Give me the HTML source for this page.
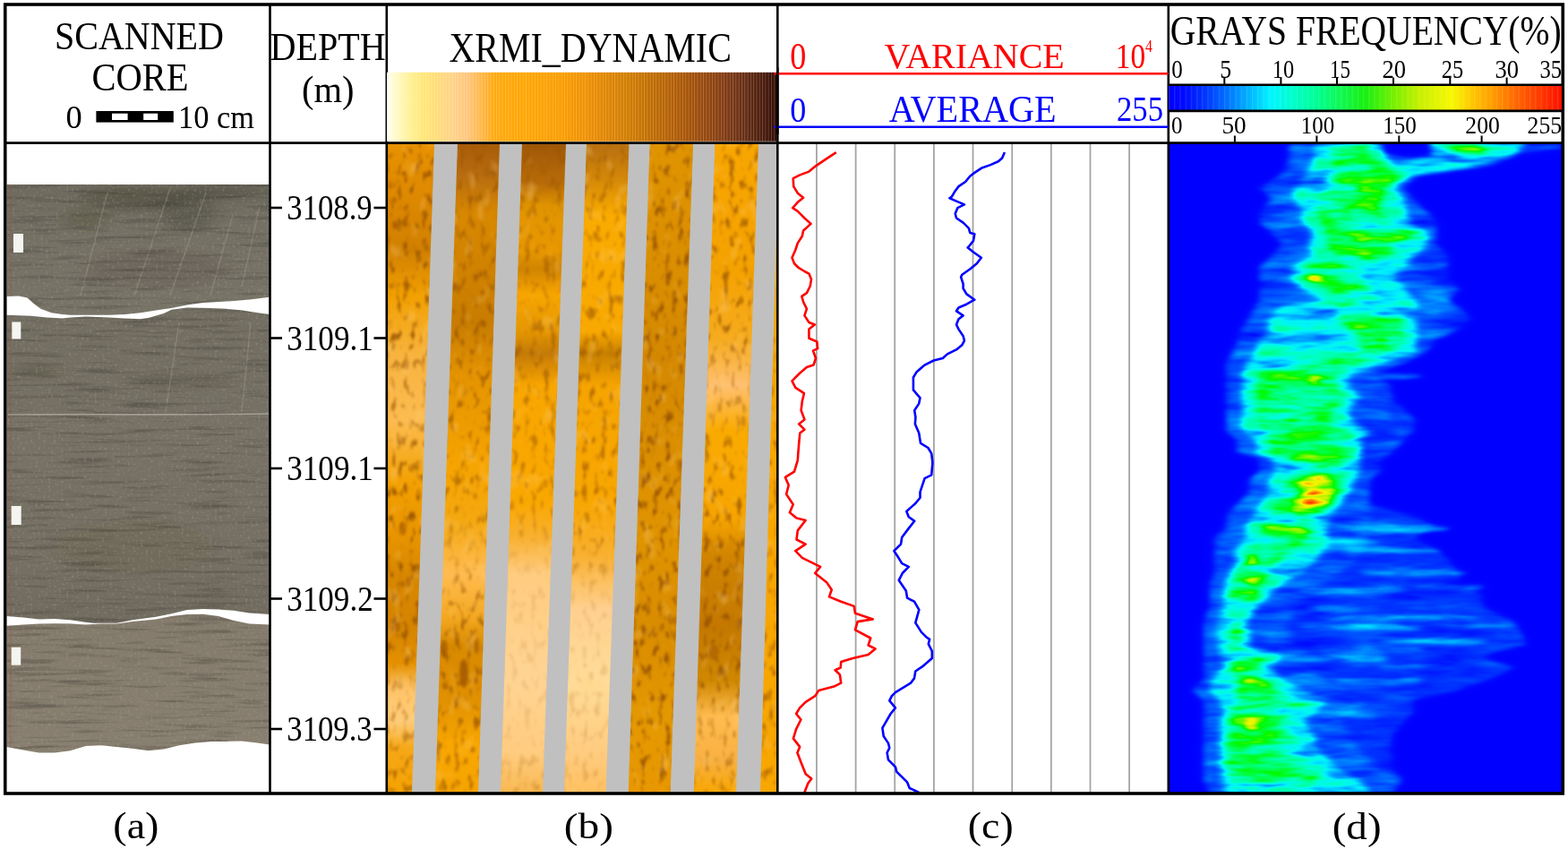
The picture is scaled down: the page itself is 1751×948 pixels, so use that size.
<!DOCTYPE html>
<html><head><meta charset="utf-8"><title>Core image analysis figure</title>
<style>html,body{margin:0;padding:0;background:#fff;overflow:hidden}svg{display:block}</style>
</head><body>
<svg width="1751" height="948" viewBox="0 0 1751 948" font-family="'Liberation Serif', 'Times New Roman', serif">
<defs>
<linearGradient id="cg1" gradientUnits="userSpaceOnUse" x1="0" y1="206" x2="0" y2="356"><stop offset="0" stop-color="#6e6a5e"/><stop offset="0.3" stop-color="#747064"/><stop offset="1" stop-color="#787468"/></linearGradient>
<linearGradient id="cg2" gradientUnits="userSpaceOnUse" x1="0" y1="345" x2="0" y2="696"><stop offset="0" stop-color="#736e62"/><stop offset="0.3" stop-color="#757064"/><stop offset="0.35" stop-color="#787266"/><stop offset="0.8" stop-color="#767064"/><stop offset="1" stop-color="#716b5f"/></linearGradient>
<linearGradient id="cg3" gradientUnits="userSpaceOnUse" x1="0" y1="690" x2="0" y2="840"><stop offset="0" stop-color="#847b6c"/><stop offset="1" stop-color="#887f70"/></linearGradient>
<filter id="cnoise" filterUnits="userSpaceOnUse" x="8" y="200" width="295" height="645" color-interpolation-filters="sRGB">
<feTurbulence type="fractalNoise" baseFrequency="0.015 0.22" numOctaves="3" seed="21"/>
<feColorMatrix type="matrix" values="0 0 0 0 0.24  0 0 0 0 0.23  0 0 0 0 0.2  -3.2 0 0 0 1.55"/>
<feGaussianBlur stdDeviation="0.6"/>
</filter>
<filter id="cnoise2" filterUnits="userSpaceOnUse" x="8" y="200" width="295" height="645" color-interpolation-filters="sRGB">
<feTurbulence type="fractalNoise" baseFrequency="0.35 0.35" numOctaves="1" seed="33"/>
<feColorMatrix type="matrix" values="0 0 0 0 0.72  0 0 0 0 0.72  0 0 0 0 0.68  3.2 0 0 0 -1.75"/>
<feGaussianBlur stdDeviation="0.5"/>
</filter>
<filter id="cblur" x="-50%" y="-50%" width="200%" height="200%"><feGaussianBlur stdDeviation="8 3"/></filter>
<clipPath id="clipCore"><polygon points="7.5,206.0 300.5,206.0 301.0,331.8 278.7,334.4 261.3,336.1 243.9,337.0 226.4,337.9 209.0,340.5 191.6,344.0 174.2,346.6 156.8,349.2 139.3,350.9 121.9,351.8 94.1,351.8 78.4,351.8 69.7,350.9 57.5,349.2 45.3,344.8 36.6,337.9 30.5,332.6 20.9,330.6 7.5,330.9"/><polygon points="7.5,351.8 34.8,352.7 52.3,354.4 69.7,355.6 78.4,354.4 95.8,353.5 121.9,354.4 139.3,355.6 156.8,356.2 165.5,354.9 182.9,350.1 191.6,345.7 209.0,343.4 235.2,344.0 252.6,344.8 270.0,346.6 287.4,349.2 301.0,350.9 301.0,686.1 278.7,684.4 261.3,681.8 243.9,680.6 226.4,680.0 209.0,680.9 191.6,685.3 174.2,688.7 148.1,692.2 130.6,695.7 104.5,695.7 95.8,694.8 78.4,692.2 61.0,691.0 43.5,691.4 26.1,689.6 7.5,687.9"/><polygon points="7.5,698.7 26.1,697.4 43.5,696.6 61.0,696.2 78.4,696.6 95.8,697.4 113.2,696.6 130.6,696.6 148.1,694.0 174.2,691.4 191.6,687.9 209.0,686.1 226.4,685.8 243.9,687.9 261.3,693.1 278.7,696.6 301.0,697.4 301.0,831.4 287.4,829.6 270.0,827.5 252.6,827.9 235.2,827.9 217.7,829.6 200.3,832.2 182.9,836.6 165.5,838.3 148.1,835.7 130.6,834.0 113.2,832.2 95.8,833.1 78.4,838.3 61.0,840.4 43.5,840.4 26.1,837.5 7.5,834.0"/></clipPath>
<linearGradient id="xm0" gradientUnits="userSpaceOnUse" x1="0" y1="161" x2="0" y2="885"><stop offset="0.000" stop-color="#fff" stop-opacity="0.9"/><stop offset="0.302" stop-color="#fff" stop-opacity="0.9"/><stop offset="0.358" stop-color="#fff" stop-opacity="0.6"/><stop offset="0.496" stop-color="#fff" stop-opacity="0.8"/><stop offset="0.551" stop-color="#fff" stop-opacity="1.0"/><stop offset="0.744" stop-color="#fff" stop-opacity="1.0"/><stop offset="0.827" stop-color="#fff" stop-opacity="0.5"/><stop offset="0.910" stop-color="#fff" stop-opacity="0.5"/><stop offset="1.000" stop-color="#fff" stop-opacity="0.8"/></linearGradient>
<linearGradient id="xm1" gradientUnits="userSpaceOnUse" x1="0" y1="161" x2="0" y2="885"><stop offset="0.000" stop-color="#fff" stop-opacity="0.6"/><stop offset="0.330" stop-color="#fff" stop-opacity="0.8"/><stop offset="0.551" stop-color="#fff" stop-opacity="0.6"/><stop offset="0.634" stop-color="#fff" stop-opacity="0.3"/><stop offset="0.731" stop-color="#fff" stop-opacity="0.7"/><stop offset="0.855" stop-color="#fff" stop-opacity="0.9"/><stop offset="1.000" stop-color="#fff" stop-opacity="0.6"/></linearGradient>
<linearGradient id="xm2" gradientUnits="userSpaceOnUse" x1="0" y1="161" x2="0" y2="885"><stop offset="0.000" stop-color="#fff" stop-opacity="0.5"/><stop offset="0.358" stop-color="#fff" stop-opacity="0.6"/><stop offset="0.551" stop-color="#fff" stop-opacity="0.5"/><stop offset="0.634" stop-color="#fff" stop-opacity="0.15"/><stop offset="0.938" stop-color="#fff" stop-opacity="0.15"/><stop offset="1.000" stop-color="#fff" stop-opacity="0.4"/></linearGradient>
<linearGradient id="xm3" gradientUnits="userSpaceOnUse" x1="0" y1="161" x2="0" y2="885"><stop offset="0.000" stop-color="#fff" stop-opacity="0.5"/><stop offset="0.358" stop-color="#fff" stop-opacity="0.7"/><stop offset="0.606" stop-color="#fff" stop-opacity="0.6"/><stop offset="0.689" stop-color="#fff" stop-opacity="0.15"/><stop offset="0.965" stop-color="#fff" stop-opacity="0.2"/><stop offset="1.000" stop-color="#fff" stop-opacity="0.3"/></linearGradient>
<linearGradient id="xm4" gradientUnits="userSpaceOnUse" x1="0" y1="161" x2="0" y2="885"><stop offset="0.000" stop-color="#fff" stop-opacity="1.0"/><stop offset="1.000" stop-color="#fff" stop-opacity="1.0"/></linearGradient>
<linearGradient id="xm5" gradientUnits="userSpaceOnUse" x1="0" y1="161" x2="0" y2="885"><stop offset="0.000" stop-color="#fff" stop-opacity="0.8"/><stop offset="0.289" stop-color="#fff" stop-opacity="0.8"/><stop offset="0.372" stop-color="#fff" stop-opacity="0.4"/><stop offset="0.551" stop-color="#fff" stop-opacity="0.8"/><stop offset="0.634" stop-color="#fff" stop-opacity="1.0"/><stop offset="0.827" stop-color="#fff" stop-opacity="1.0"/><stop offset="0.883" stop-color="#fff" stop-opacity="0.4"/><stop offset="1.000" stop-color="#fff" stop-opacity="0.6"/></linearGradient>
<linearGradient id="xm6" gradientUnits="userSpaceOnUse" x1="0" y1="161" x2="0" y2="885"><stop offset="0.000" stop-color="#fff" stop-opacity="0.7"/><stop offset="1.000" stop-color="#fff" stop-opacity="0.7"/></linearGradient>
<mask id="xmask" maskUnits="userSpaceOnUse" x="432" y="160" width="437" height="726"><rect x="432" y="160" width="437" height="726" fill="#000"/><polygon points="429,161 488,161 463,885 429,885" fill="url(#xm0)"/><polygon points="508,161 561,161 537,885 483,885" fill="url(#xm1)"/><polygon points="580,161 635,161 609,885 556,885" fill="url(#xm2)"/><polygon points="652,161 705.5,161 679.5,885 627,885" fill="url(#xm3)"/><polygon points="722.6,161 777,161 751.6,885 698.7,885" fill="url(#xm4)"/><polygon points="795.4,161 850,161 825,885 771.7,885" fill="url(#xm5)"/><polygon points="867,161 903,161 903,885 846,885" fill="url(#xm6)"/></mask>
<linearGradient id="xs0" gradientUnits="userSpaceOnUse" x1="0" y1="161" x2="0" y2="885"><stop offset="0.000" stop-color="#e89200"/><stop offset="0.123" stop-color="#d88400"/><stop offset="0.164" stop-color="#d08000"/><stop offset="0.233" stop-color="#f2a000"/><stop offset="0.330" stop-color="#f8b440"/><stop offset="0.427" stop-color="#fcbc50"/><stop offset="0.523" stop-color="#f2a000"/><stop offset="0.606" stop-color="#e89400"/><stop offset="0.662" stop-color="#d88800"/><stop offset="0.744" stop-color="#d48400"/><stop offset="0.800" stop-color="#e49000"/><stop offset="0.841" stop-color="#ffc468"/><stop offset="0.890" stop-color="#ffcc78"/><stop offset="0.931" stop-color="#f6a818"/><stop offset="1.000" stop-color="#f4a200"/></linearGradient>
<linearGradient id="xs1" gradientUnits="userSpaceOnUse" x1="0" y1="161" x2="0" y2="885"><stop offset="0.000" stop-color="#a85c08"/><stop offset="0.047" stop-color="#b86c10"/><stop offset="0.109" stop-color="#d88800"/><stop offset="0.192" stop-color="#d08200"/><stop offset="0.275" stop-color="#c87c00"/><stop offset="0.358" stop-color="#e49400"/><stop offset="0.496" stop-color="#f6a400"/><stop offset="0.579" stop-color="#f4a810"/><stop offset="0.662" stop-color="#ffbc50"/><stop offset="0.731" stop-color="#f4a820"/><stop offset="0.772" stop-color="#d88a00"/><stop offset="0.855" stop-color="#e09000"/><stop offset="0.924" stop-color="#f8a600"/><stop offset="1.000" stop-color="#f6a400"/></linearGradient>
<linearGradient id="xs2" gradientUnits="userSpaceOnUse" x1="0" y1="161" x2="0" y2="885"><stop offset="0.000" stop-color="#a05808"/><stop offset="0.061" stop-color="#b86c08"/><stop offset="0.095" stop-color="#e09400"/><stop offset="0.164" stop-color="#e89800"/><stop offset="0.192" stop-color="#d08400"/><stop offset="0.233" stop-color="#f8a600"/><stop offset="0.289" stop-color="#e49600"/><stop offset="0.323" stop-color="#c47a08"/><stop offset="0.372" stop-color="#f8a600"/><stop offset="0.551" stop-color="#faa800"/><stop offset="0.606" stop-color="#f8b030"/><stop offset="0.662" stop-color="#ffcc80"/><stop offset="0.827" stop-color="#ffd494"/><stop offset="0.938" stop-color="#ffcc80"/><stop offset="1.000" stop-color="#f8b850"/></linearGradient>
<linearGradient id="xs3" gradientUnits="userSpaceOnUse" x1="0" y1="161" x2="0" y2="885"><stop offset="0.000" stop-color="#b87010"/><stop offset="0.054" stop-color="#d48808"/><stop offset="0.109" stop-color="#faab00"/><stop offset="0.289" stop-color="#f8a800"/><stop offset="0.323" stop-color="#c88000"/><stop offset="0.372" stop-color="#f6a400"/><stop offset="0.551" stop-color="#f8a600"/><stop offset="0.634" stop-color="#f8b030"/><stop offset="0.717" stop-color="#ffd090"/><stop offset="0.827" stop-color="#ffdc98"/><stop offset="0.938" stop-color="#ffcc80"/><stop offset="1.000" stop-color="#ffc060"/></linearGradient>
<linearGradient id="xs4" gradientUnits="userSpaceOnUse" x1="0" y1="161" x2="0" y2="885"><stop offset="0.000" stop-color="#e09400"/><stop offset="0.137" stop-color="#dc9000"/><stop offset="0.330" stop-color="#d48800"/><stop offset="0.496" stop-color="#dc9000"/><stop offset="0.606" stop-color="#e09400"/><stop offset="0.744" stop-color="#d88c00"/><stop offset="0.883" stop-color="#e49800"/><stop offset="1.000" stop-color="#e89800"/></linearGradient>
<linearGradient id="xs5" gradientUnits="userSpaceOnUse" x1="0" y1="161" x2="0" y2="885"><stop offset="0.000" stop-color="#f8a600"/><stop offset="0.192" stop-color="#f4a200"/><stop offset="0.302" stop-color="#f6ac20"/><stop offset="0.372" stop-color="#ffc070"/><stop offset="0.441" stop-color="#faab00"/><stop offset="0.579" stop-color="#f6a400"/><stop offset="0.634" stop-color="#d08400"/><stop offset="0.744" stop-color="#c47800"/><stop offset="0.827" stop-color="#d08800"/><stop offset="0.883" stop-color="#ffbc50"/><stop offset="0.952" stop-color="#f8b040"/><stop offset="1.000" stop-color="#f8a600"/></linearGradient>
<linearGradient id="xs6" gradientUnits="userSpaceOnUse" x1="0" y1="161" x2="0" y2="885"><stop offset="0.000" stop-color="#f8a600"/><stop offset="1.000" stop-color="#f8a600"/></linearGradient>
<clipPath id="clipB"><rect x="433" y="161" width="434.5" height="724"/></clipPath>
<filter id="xdark" filterUnits="userSpaceOnUse" x="432" y="160" width="437" height="726" color-interpolation-filters="sRGB">
<feTurbulence type="fractalNoise" baseFrequency="0.14 0.07" numOctaves="2" seed="4"/>
<feColorMatrix type="matrix" values="0 0 0 0 0.6  0 0 0 0 0.33  0 0 0 0 0.0  -4.5 0 0 0 2.05"/>
<feGaussianBlur stdDeviation="1.3"/>
</filter>
<filter id="xlight" filterUnits="userSpaceOnUse" x="432" y="160" width="437" height="726" color-interpolation-filters="sRGB">
<feTurbulence type="fractalNoise" baseFrequency="0.06 0.04" numOctaves="2" seed="9"/>
<feColorMatrix type="matrix" values="0 0 0 0 1.0  0 0 0 0 0.82  0 0 0 0 0.5  3.0 0 0 0 -1.75"/>
<feGaussianBlur stdDeviation="1.2"/>
</filter>
<filter id="xblob" x="-50%" y="-50%" width="200%" height="200%"><feGaussianBlur stdDeviation="1.8"/></filter>
<filter id="heatf" filterUnits="userSpaceOnUse" x="1305" y="160" width="440" height="726" color-interpolation-filters="sRGB">
<feGaussianBlur in="SourceGraphic" stdDeviation="4 2.5" result="band"/>
<feTurbulence type="fractalNoise" baseFrequency="0.014 0.07" numOctaves="3" seed="11" result="turb"/>
<feColorMatrix in="turb" type="matrix" values="1 0 0 0 0  1 0 0 0 0  1 0 0 0 0  0 0 0 0 1" result="noise"/>
<feComposite in="band" in2="noise" operator="arithmetic" k1="1.6" k2="0.2" k3="0" k4="0" result="mod"/>
<feComponentTransfer in="mod">
<feFuncR type="table" tableValues="0.000 0.000 0.000 0.000 0.000 0.000 0.000 0.000 0.000 0.000 0.000 0.000 0.000 0.000 0.000 0.000 0.000 0.000 0.000 0.000 0.000 0.135 0.270 0.404 0.549 0.696 0.808 0.867 0.925 0.975 0.986 0.998 1.000 1.000 1.000 1.000 1.000 1.000 1.000 1.000 1.000"/>
<feFuncG type="table" tableValues="0.000 0.025 0.072 0.154 0.235 0.343 0.451 0.569 0.686 0.801 0.915 0.971 0.987 1.000 1.000 1.000 1.000 1.000 0.997 0.989 0.980 0.978 0.975 0.973 0.962 0.949 0.945 0.955 0.965 0.954 0.863 0.771 0.690 0.610 0.522 0.433 0.356 0.280 0.207 0.135 0.063"/>
<feFuncB type="table" tableValues="1.000 1.000 1.000 1.000 1.000 1.000 1.000 1.000 1.000 1.000 1.000 0.946 0.856 0.768 0.686 0.605 0.484 0.353 0.229 0.114 0.000 0.000 0.000 0.000 0.000 0.000 0.000 0.000 0.000 0.000 0.000 0.000 0.000 0.000 0.000 0.000 0.000 0.000 0.000 0.000 0.000"/>
<feFuncA type="linear" slope="0" intercept="1"/>
</feComponentTransfer>
</filter>
<linearGradient id="gb" x1="0" x2="1" y1="0" y2="0"><stop offset="0" stop-color="#fffff4"/><stop offset="0.02" stop-color="#fffbd0"/><stop offset="0.05" stop-color="#fff3a0"/><stop offset="0.09" stop-color="#ffe878"/><stop offset="0.13" stop-color="#ffdc78"/><stop offset="0.17" stop-color="#ffd28a"/><stop offset="0.21" stop-color="#ffc478"/><stop offset="0.25" stop-color="#ffb43c"/><stop offset="0.28" stop-color="#ffa90c"/><stop offset="0.36" stop-color="#ffa500"/><stop offset="0.45" stop-color="#fa9c00"/><stop offset="0.5" stop-color="#f29200"/><stop offset="0.56" stop-color="#e08600"/><stop offset="0.62" stop-color="#d07c00"/><stop offset="0.68" stop-color="#c06c00"/><stop offset="0.74" stop-color="#b05c04"/><stop offset="0.8" stop-color="#9c4c0a"/><stop offset="0.86" stop-color="#843c12"/><stop offset="0.92" stop-color="#642c14"/><stop offset="0.97" stop-color="#46180a"/><stop offset="1" stop-color="#300c04"/></linearGradient>
<pattern id="stripes_b" x="432" y="0" width="3.3" height="10" patternUnits="userSpaceOnUse"><rect x="0" y="0" width="0.9" height="10" fill="#fff" fill-opacity="0.22"/></pattern>
<linearGradient id="gd" x1="0" x2="1" y1="0" y2="0"><stop offset="0" stop-color="#0000ff"/><stop offset="0.04" stop-color="#000aff"/><stop offset="0.1" stop-color="#003cff"/><stop offset="0.15" stop-color="#0073ff"/><stop offset="0.2" stop-color="#00afff"/><stop offset="0.26" stop-color="#00f5ff"/><stop offset="0.32" stop-color="#00ffc8"/><stop offset="0.38" stop-color="#00ff90"/><stop offset="0.44" stop-color="#10f850"/><stop offset="0.5" stop-color="#18f010"/><stop offset="0.58" stop-color="#80f000"/><stop offset="0.64" stop-color="#c8f000"/><stop offset="0.72" stop-color="#f8f800"/><stop offset="0.78" stop-color="#ffc000"/><stop offset="0.82" stop-color="#ffa000"/><stop offset="0.88" stop-color="#ff6a00"/><stop offset="0.94" stop-color="#ff3c00"/><stop offset="1" stop-color="#ff1000"/></linearGradient>
<pattern id="stripes_d" x="1305" y="0" width="6.2" height="10" patternUnits="userSpaceOnUse"><rect x="0" y="0" width="1.2" height="10" fill="#fff" fill-opacity="0.12"/></pattern>
</defs>
<rect x="0" y="0" width="1751" height="948" fill="#fff"/>
<polygon points="7.5,206.0 300.5,206.0 301.0,331.8 278.7,334.4 261.3,336.1 243.9,337.0 226.4,337.9 209.0,340.5 191.6,344.0 174.2,346.6 156.8,349.2 139.3,350.9 121.9,351.8 94.1,351.8 78.4,351.8 69.7,350.9 57.5,349.2 45.3,344.8 36.6,337.9 30.5,332.6 20.9,330.6 7.5,330.9" fill="url(#cg1)"/>
<polygon points="7.5,351.8 34.8,352.7 52.3,354.4 69.7,355.6 78.4,354.4 95.8,353.5 121.9,354.4 139.3,355.6 156.8,356.2 165.5,354.9 182.9,350.1 191.6,345.7 209.0,343.4 235.2,344.0 252.6,344.8 270.0,346.6 287.4,349.2 301.0,350.9 301.0,686.1 278.7,684.4 261.3,681.8 243.9,680.6 226.4,680.0 209.0,680.9 191.6,685.3 174.2,688.7 148.1,692.2 130.6,695.7 104.5,695.7 95.8,694.8 78.4,692.2 61.0,691.0 43.5,691.4 26.1,689.6 7.5,687.9" fill="url(#cg2)"/>
<polygon points="7.5,698.7 26.1,697.4 43.5,696.6 61.0,696.2 78.4,696.6 95.8,697.4 113.2,696.6 130.6,696.6 148.1,694.0 174.2,691.4 191.6,687.9 209.0,686.1 226.4,685.8 243.9,687.9 261.3,693.1 278.7,696.6 301.0,697.4 301.0,831.4 287.4,829.6 270.0,827.5 252.6,827.9 235.2,827.9 217.7,829.6 200.3,832.2 182.9,836.6 165.5,838.3 148.1,835.7 130.6,834.0 113.2,832.2 95.8,833.1 78.4,838.3 61.0,840.4 43.5,840.4 26.1,837.5 7.5,834.0" fill="url(#cg3)"/>
<g clip-path="url(#clipCore)">
<ellipse cx="150" cy="222" rx="60" ry="14" fill="#3c3828" fill-opacity="0.35" filter="url(#cblur)"/>
<ellipse cx="210" cy="235" rx="30" ry="25" fill="#3c3828" fill-opacity="0.3" filter="url(#cblur)"/>
<ellipse cx="95" cy="245" rx="25" ry="12" fill="#3c3828" fill-opacity="0.25" filter="url(#cblur)"/>
<ellipse cx="250" cy="215" rx="40" ry="8" fill="#3c3828" fill-opacity="0.3" filter="url(#cblur)"/>
<ellipse cx="175" cy="300" rx="80" ry="20" fill="#3c3828" fill-opacity="0.15" filter="url(#cblur)"/>
<ellipse cx="40" cy="415" rx="25" ry="6" fill="#3c3828" fill-opacity="0.25" filter="url(#cblur)"/>
<ellipse cx="200" cy="425" rx="60" ry="8" fill="#3c3828" fill-opacity="0.18" filter="url(#cblur)"/>
<ellipse cx="150" cy="610" rx="90" ry="30" fill="#3c3828" fill-opacity="0.08" filter="url(#cblur)"/>
<line x1="190" y1="210" x2="150" y2="330" stroke="#a8a898" stroke-opacity="0.35" stroke-width="1.5"/>
<line x1="230" y1="215" x2="190" y2="330" stroke="#a8a898" stroke-opacity="0.35" stroke-width="1.5"/>
<line x1="260" y1="240" x2="235" y2="330" stroke="#a8a898" stroke-opacity="0.35" stroke-width="1.5"/>
<line x1="120" y1="215" x2="90" y2="330" stroke="#a8a898" stroke-opacity="0.35" stroke-width="1.5"/>
<line x1="290" y1="230" x2="270" y2="320" stroke="#a8a898" stroke-opacity="0.35" stroke-width="1.5"/>
<line x1="200" y1="360" x2="185" y2="460" stroke="#a8a898" stroke-opacity="0.35" stroke-width="1.5"/>
<line x1="280" y1="360" x2="270" y2="460" stroke="#a8a898" stroke-opacity="0.35" stroke-width="1.5"/>
<rect x="8" y="200" width="295" height="645" filter="url(#cnoise)" opacity="0.4"/>
<rect x="8" y="200" width="295" height="645" filter="url(#cnoise2)" opacity="0.3"/>
<path d="M9,463 C80,462 160,464 301,462" stroke="#c8c8c0" stroke-width="1.6" fill="none" stroke-opacity="0.55"/>
<line x1="12" y1="206" x2="12" y2="840" stroke="#a05040" stroke-opacity="0.4" stroke-width="1.2"/>
</g>
<rect x="15" y="261" width="11" height="21" fill="#f4f4f0"/>
<rect x="13.3" y="359.5" width="10" height="19" fill="#f4f4f0"/>
<rect x="12.7" y="565" width="11" height="21" fill="#f4f4f0"/>
<rect x="12.7" y="722.7" width="10.5" height="20" fill="#f4f4f0"/>
<g clip-path="url(#clipB)"><polygon points="429,161 488,161 463,885 429,885" fill="url(#xs0)"/>
<polygon points="508,161 561,161 537,885 483,885" fill="url(#xs1)"/>
<polygon points="580,161 635,161 609,885 556,885" fill="url(#xs2)"/>
<polygon points="652,161 705.5,161 679.5,885 627,885" fill="url(#xs3)"/>
<polygon points="722.6,161 777,161 751.6,885 698.7,885" fill="url(#xs4)"/>
<polygon points="795.4,161 850,161 825,885 771.7,885" fill="url(#xs5)"/>
<polygon points="867,161 903,161 903,885 846,885" fill="url(#xs6)"/>
<g mask="url(#xmask)"><rect x="432" y="160" width="437" height="726" filter="url(#xdark)" opacity="0.9"/></g>
<rect x="432" y="160" width="437" height="726" filter="url(#xlight)" opacity="0.45"/>
<ellipse cx="518" cy="752" rx="5" ry="16" fill="#9a5000" fill-opacity="0.75" filter="url(#xblob)"/>
<ellipse cx="496" cy="724" rx="4" ry="10" fill="#9a5000" fill-opacity="0.6" filter="url(#xblob)"/>
<ellipse cx="532" cy="722" rx="3" ry="8" fill="#9a5000" fill-opacity="0.55" filter="url(#xblob)"/>
<ellipse cx="450" cy="590" rx="4" ry="8" fill="#9a5000" fill-opacity="0.5" filter="url(#xblob)"/>
<ellipse cx="441" cy="251" rx="3" ry="5" fill="#9a5000" fill-opacity="0.6" filter="url(#xblob)"/>
<ellipse cx="797" cy="728" rx="6" ry="9" fill="#9a5000" fill-opacity="0.45" filter="url(#xblob)"/>
<ellipse cx="444" cy="700" rx="3" ry="6" fill="#9a5000" fill-opacity="0.5" filter="url(#xblob)"/>
<ellipse cx="456" cy="650" rx="3" ry="6" fill="#9a5000" fill-opacity="0.45" filter="url(#xblob)"/>
<ellipse cx="609" cy="540" rx="3" ry="5" fill="#9a5000" fill-opacity="0.35" filter="url(#xblob)"/>
<ellipse cx="690" cy="560" rx="4" ry="6" fill="#9a5000" fill-opacity="0.4" filter="url(#xblob)"/>
<ellipse cx="760" cy="520" rx="4" ry="8" fill="#9a5000" fill-opacity="0.45" filter="url(#xblob)"/>
<ellipse cx="830" cy="470" rx="3" ry="6" fill="#9a5000" fill-opacity="0.4" filter="url(#xblob)"/>
<polygon points="485,160 511,160 486,886 460,886" fill="#c0c0c0"/>
<polygon points="558,160 583,160 559,886 534,886" fill="#c0c0c0"/>
<polygon points="632,160 655,160 630,886 606,886" fill="#c0c0c0"/>
<polygon points="702.5,160 725.6,160 701.7,886 676.5,886" fill="#c0c0c0"/>
<polygon points="774,160 798.4,160 774.7,886 748.6,886" fill="#c0c0c0"/>
<polygon points="847,160 870,160 849,886 822,886" fill="#c0c0c0"/></g>
<line x1="911.9" y1="160" x2="911.9" y2="885" stroke="#a4a4a4" stroke-width="1.8"/>
<line x1="955.6" y1="160" x2="955.6" y2="885" stroke="#a4a4a4" stroke-width="1.8"/>
<line x1="999.2" y1="160" x2="999.2" y2="885" stroke="#a4a4a4" stroke-width="1.8"/>
<line x1="1042.9" y1="160" x2="1042.9" y2="885" stroke="#a4a4a4" stroke-width="1.8"/>
<line x1="1086.5" y1="160" x2="1086.5" y2="885" stroke="#a4a4a4" stroke-width="1.8"/>
<line x1="1130.2" y1="160" x2="1130.2" y2="885" stroke="#a4a4a4" stroke-width="1.8"/>
<line x1="1173.8" y1="160" x2="1173.8" y2="885" stroke="#a4a4a4" stroke-width="1.8"/>
<line x1="1217.5" y1="160" x2="1217.5" y2="885" stroke="#a4a4a4" stroke-width="1.8"/>
<line x1="1261.1" y1="160" x2="1261.1" y2="885" stroke="#a4a4a4" stroke-width="1.8"/>
<polyline points="933.8,170.1 922.4,177.7 911.0,185.3 903.4,191.6 893.3,195.4 885.7,199.2 886.2,208.1 890.8,215.7 897.1,220.8 890.8,225.8 885.2,232.2 890.8,235.9 898.4,243.5 905.5,249.9 897.1,257.5 895.8,263.8 890.8,271.4 888.3,279.0 884.5,287.8 887.0,294.2 892.1,299.2 898.4,303.0 903.4,305.6 906.0,311.9 904.7,319.5 900.9,327.1 895.3,330.9 897.1,337.2 900.9,344.8 898.4,352.4 903.4,360.0 909.8,362.5 903.4,367.6 903.4,377.7 912.3,381.5 913.1,389.1 908.0,391.6 909.8,396.7 911.0,400.0 908.5,407.6 900.9,410.1 893.3,416.5 884.5,425.3 888.3,432.9 897.9,439.2 895.8,448.1 894.6,458.2 898.4,468.4 892.1,473.4 898.4,479.7 893.3,483.5 892.1,496.2 891.3,506.3 890.8,513.9 887.0,526.6 876.9,532.9 880.7,541.8 878.1,551.9 885.7,563.3 881.9,572.2 889.5,578.5 899.6,581.0 890.8,592.4 889.5,602.5 899.6,607.6 888.3,615.2 895.8,622.8 906.0,627.8 916.1,632.9 910.2,640.0 923.4,650.6 928.7,658.5 926.0,666.4 939.2,671.7 953.7,676.9 955.0,684.8 974.8,691.4 957.7,694.1 955.0,703.3 972.2,712.5 969.6,720.5 977.5,724.4 969.6,731.0 952.4,735.0 939.2,738.9 938.7,745.5 932.6,748.2 937.9,753.4 939.2,762.7 931.3,766.6 914.2,771.1 910.2,777.2 899.7,783.8 893.1,790.4 889.1,797.0 894.4,803.5 889.1,814.1 885.9,824.6 893.1,833.9 890.4,840.5 894.4,851.0 899.7,864.2 906.2,869.5 902.3,874.8 898.3,885.0" fill="none" stroke="#ff0000" stroke-width="2.6" stroke-linejoin="round"/>
<polyline points="1121.9,170.1 1119.1,176.5 1114.8,180.3 1106.0,184.1 1095.8,187.8 1088.3,192.9 1083.2,196.7 1078.1,203.0 1070.5,208.1 1066.7,213.2 1062.9,219.5 1060.4,221.3 1068.0,224.6 1076.9,228.4 1069.3,232.2 1066.7,238.5 1068.0,243.5 1075.6,248.6 1081.9,254.9 1083.2,260.0 1088.3,261.3 1087.0,268.9 1081.9,275.2 1080.7,276.5 1087.0,281.5 1095.8,287.8 1090.8,294.2 1083.2,300.5 1074.3,306.8 1073.1,309.4 1075.6,317.0 1075.6,322.0 1079.4,328.4 1088.3,334.7 1079.4,339.7 1070.5,343.5 1068.0,347.3 1075.6,352.4 1070.5,356.2 1068.0,362.5 1070.5,367.6 1075.6,375.2 1076.9,380.3 1074.3,385.3 1068.0,390.4 1057.9,395.4 1052.8,400.0 1042.7,402.5 1032.6,407.6 1023.7,415.2 1019.9,421.5 1019.9,435.4 1027.5,444.3 1026.2,450.6 1021.2,458.2 1022.4,465.8 1021.9,473.4 1026.2,483.5 1028.0,494.9 1036.4,500.0 1040.2,506.3 1041.4,516.5 1040.2,530.4 1032.6,534.2 1030.0,541.8 1027.5,549.4 1027.5,555.7 1022.4,562.0 1012.3,570.9 1014.8,577.2 1021.2,581.8 1014.8,589.9 1007.2,600.0 1006.0,607.6 998.4,615.2 1003.4,622.8 1007.2,629.1 1014.8,632.9 1007.8,640.0 1003.8,647.9 1011.8,659.8 1013.1,667.7 1021.0,671.7 1026.3,680.9 1022.3,695.4 1028.9,705.9 1034.2,711.2 1038.1,713.9 1036.8,719.1 1040.8,727.0 1040.8,735.0 1030.2,744.2 1022.3,749.5 1021.0,757.4 1017.0,762.7 999.9,773.2 995.9,777.2 993.3,782.4 999.9,790.4 994.6,797.0 989.3,806.2 985.4,812.8 986.7,822.0 992.0,829.9 993.3,835.2 990.6,840.5 992.0,848.4 999.9,856.3 1001.2,861.6 1007.8,868.2 1013.1,873.4 1015.7,880.0 1026.3,885.0" fill="none" stroke="#0000ff" stroke-width="2.6" stroke-linejoin="round"/>
<g filter="url(#heatf)">
<rect x="1305" y="160" width="440" height="726" fill="#000"/>
<polygon points="1440.0,160.0 1438.0,166.0 1438.0,172.6 1436.0,185.0 1426.0,197.7 1405.0,210.0 1418.0,222.8 1405.0,235.4 1405.0,248.0 1418.0,260.5 1431.0,273.0 1418.0,285.6 1405.0,298.0 1405.0,310.8 1405.0,323.3 1405.0,335.9 1400.0,342.6 1393.0,355.0 1385.0,367.7 1380.0,380.0 1375.0,392.8 1368.0,405.4 1368.0,418.0 1368.0,430.5 1368.0,443.0 1368.0,455.6 1368.0,468.0 1368.0,480.8 1380.0,493.3 1380.0,506.0 1405.0,512.6 1405.0,525.0 1393.0,537.7 1393.0,550.0 1380.0,562.8 1368.0,575.4 1368.0,588.0 1355.0,600.5 1355.0,613.0 1355.0,625.6 1355.0,638.0 1350.0,650.8 1350.0,663.3 1350.0,676.0 1343.0,695.0 1343.0,720.0 1343.0,733.0 1343.0,745.0 1343.0,758.0 1330.0,770.5 1343.0,783.0 1343.0,795.6 1343.0,808.0 1343.0,820.8 1343.0,833.3 1343.0,845.9 1343.0,858.4 1343.0,871.0 1350.0,886.0 1556.0,886.0 1569.0,871.0 1556.0,858.4 1556.0,845.9 1556.0,833.3 1556.0,820.8 1569.0,808.0 1581.0,795.6 1581.0,783.0 1632.0,770.5 1669.0,758.0 1694.0,745.0 1657.0,733.0 1707.0,720.0 1694.0,695.0 1657.0,676.0 1657.0,663.3 1632.0,650.8 1632.0,638.0 1619.0,625.6 1606.0,613.0 1581.0,600.5 1606.0,588.0 1581.0,575.4 1531.0,562.8 1531.0,550.0 1531.0,537.7 1544.0,525.0 1544.0,512.6 1556.0,506.0 1569.0,493.3 1581.0,480.8 1581.0,468.0 1569.0,455.6 1556.0,443.0 1556.0,430.5 1531.0,418.0 1569.0,405.4 1594.0,392.8 1606.0,380.0 1632.0,367.7 1644.0,355.0 1632.0,342.6 1619.0,335.9 1632.0,323.3 1619.0,310.8 1619.0,298.0 1619.0,285.6 1606.0,273.0 1606.0,260.5 1606.0,248.0 1594.0,235.4 1581.0,222.8 1569.0,210.0 1586.0,197.7 1669.0,185.0 1700.0,172.6 1746.0,166.0 1746.0,160.0" fill="rgb(22,22,22)"/>
<polygon points="1440.0,160.0 1438.0,166.0 1438.0,172.6 1436.0,185.0 1426.0,197.7 1405.0,210.0 1418.0,222.8 1405.0,235.4 1405.0,248.0 1418.0,260.5 1431.0,273.0 1418.0,285.6 1405.0,298.0 1405.0,310.8 1405.0,323.3 1405.0,335.9 1400.0,342.6 1393.0,355.0 1385.0,367.7 1380.0,380.0 1375.0,392.8 1368.0,405.4 1368.0,418.0 1368.0,430.5 1368.0,443.0 1368.0,455.6 1368.0,468.0 1368.0,480.8 1380.0,493.3 1380.0,506.0 1405.0,512.6 1405.0,525.0 1393.0,537.7 1393.0,550.0 1380.0,562.8 1368.0,575.4 1368.0,588.0 1355.0,600.5 1355.0,613.0 1355.0,625.6 1355.0,638.0 1350.0,650.8 1350.0,663.3 1350.0,676.0 1343.0,695.0 1343.0,720.0 1343.0,733.0 1343.0,745.0 1343.0,758.0 1330.0,770.5 1343.0,783.0 1343.0,795.6 1343.0,808.0 1343.0,820.8 1343.0,833.3 1343.0,845.9 1343.0,858.4 1343.0,871.0 1350.0,886.0 1556.0,886.0 1564.0,871.0 1538.0,858.4 1526.0,845.9 1513.0,833.3 1513.0,820.8 1501.0,808.0 1513.0,795.6 1526.0,783.0 1501.0,770.5 1476.0,758.0 1463.0,745.0 1476.0,733.0 1443.0,720.0 1438.0,695.0 1450.0,676.0 1463.0,663.3 1476.0,650.8 1501.0,638.0 1513.0,625.6 1526.0,613.0 1526.0,600.5 1526.0,588.0 1531.0,575.4 1531.0,562.8 1531.0,550.0 1531.0,537.7 1544.0,525.0 1544.0,512.6 1556.0,506.0 1564.0,493.3 1576.0,480.8 1551.0,468.0 1551.0,455.6 1556.0,443.0 1551.0,430.5 1531.0,418.0 1569.0,405.4 1594.0,392.8 1606.0,380.0 1626.0,367.7 1626.0,355.0 1626.0,342.6 1619.0,335.9 1614.0,323.3 1601.0,310.8 1614.0,298.0 1619.0,285.6 1606.0,273.0 1606.0,260.5 1606.0,248.0 1594.0,235.4 1581.0,222.8 1569.0,210.0 1586.0,197.7 1601.0,185.0 1589.0,172.6 1590.0,166.0 1590.0,160.0" fill="rgb(31,31,31)"/>
<ellipse cx="1572" cy="166" rx="30" ry="9" fill="#000"/>
<polygon points="1470.0,160.0 1468.0,166.0 1468.0,172.6 1466.0,185.0 1456.0,197.7 1446.0,210.0 1446.0,222.8 1456.0,235.4 1456.0,248.0 1468.0,260.5 1461.0,273.0 1468.0,285.6 1443.0,298.0 1443.0,310.8 1456.0,323.3 1481.0,335.9 1431.0,342.6 1418.0,355.0 1418.0,367.7 1405.0,380.0 1405.0,392.8 1393.0,405.4 1388.0,418.0 1388.0,430.5 1388.0,443.0 1388.0,455.6 1388.0,468.0 1388.0,480.8 1405.0,493.3 1405.0,506.0 1418.0,512.6 1425.0,525.0 1418.0,537.7 1418.0,550.0 1410.0,562.8 1400.0,575.4 1393.0,588.0 1393.0,600.5 1380.0,613.0 1380.0,625.6 1375.0,638.0 1368.0,650.8 1368.0,663.3 1363.0,676.0 1360.0,695.0 1360.0,720.0 1363.0,733.0 1368.0,745.0 1355.0,758.0 1350.0,770.5 1363.0,783.0 1368.0,795.6 1363.0,808.0 1363.0,820.8 1363.0,833.3 1363.0,845.9 1363.0,858.4 1363.0,871.0 1368.0,886.0 1531.0,886.0 1519.0,871.0 1493.0,858.4 1481.0,845.9 1468.0,833.3 1468.0,820.8 1456.0,808.0 1468.0,795.6 1481.0,783.0 1456.0,770.5 1431.0,758.0 1418.0,745.0 1431.0,733.0 1398.0,720.0 1393.0,695.0 1405.0,676.0 1418.0,663.3 1431.0,650.8 1456.0,638.0 1468.0,625.6 1481.0,613.0 1481.0,600.5 1481.0,588.0 1486.0,575.4 1496.0,562.8 1506.0,550.0 1511.0,537.7 1519.0,525.0 1519.0,512.6 1519.0,506.0 1519.0,493.3 1531.0,480.8 1506.0,468.0 1506.0,455.6 1519.0,443.0 1506.0,430.5 1506.0,418.0 1544.0,405.4 1581.0,392.8 1581.0,380.0 1581.0,367.7 1581.0,355.0 1581.0,342.6 1581.0,335.9 1569.0,323.3 1556.0,310.8 1569.0,298.0 1581.0,285.6 1594.0,273.0 1594.0,260.5 1576.0,248.0 1569.0,235.4 1569.0,222.8 1556.0,210.0 1576.0,197.7 1556.0,185.0 1544.0,172.6 1545.0,166.0 1545.0,160.0" fill="rgb(69,69,69)"/>
<polygon points="1481.0,160.0 1483.0,166.0 1486.0,172.6 1491.0,185.0 1481.0,197.7 1486.0,210.0 1468.0,222.8 1468.0,235.4 1476.0,248.0 1481.0,260.5 1481.0,273.0 1493.0,285.6 1456.0,298.0 1456.0,310.8 1481.0,323.3 1506.0,335.9 1493.0,342.6 1493.0,355.0 1506.0,367.7 1519.0,380.0 1519.0,392.8 1431.0,405.4 1405.0,418.0 1400.0,430.5 1405.0,443.0 1400.0,455.6 1405.0,468.0 1410.0,480.8 1418.0,493.3 1418.0,506.0 1443.0,512.6 1446.0,525.0 1436.0,537.7 1431.0,550.0 1426.0,562.8 1418.0,575.4 1410.0,588.0 1405.0,600.5 1393.0,613.0 1388.0,625.6 1380.0,638.0 1375.0,650.8 1373.0,663.3 1370.0,676.0 1370.0,695.0 1370.0,720.0 1375.0,733.0 1375.0,745.0 1380.0,758.0 1380.0,770.5 1380.0,783.0 1375.0,795.6 1375.0,808.0 1370.0,820.8 1370.0,833.3 1370.0,845.9 1370.0,858.4 1370.0,871.0 1375.0,886.0 1468.0,886.0 1468.0,871.0 1481.0,858.4 1456.0,845.9 1456.0,833.3 1443.0,820.8 1426.0,808.0 1443.0,795.6 1468.0,783.0 1426.0,770.5 1410.0,758.0 1410.0,745.0 1410.0,733.0 1388.0,720.0 1388.0,695.0 1400.0,676.0 1405.0,663.3 1410.0,650.8 1418.0,638.0 1431.0,625.6 1443.0,613.0 1461.0,600.5 1468.0,588.0 1476.0,575.4 1486.0,562.8 1496.0,550.0 1501.0,537.7 1501.0,525.0 1506.0,512.6 1519.0,506.0 1519.0,493.3 1506.0,480.8 1481.0,468.0 1493.0,455.6 1506.0,443.0 1493.0,430.5 1493.0,418.0 1519.0,405.4 1556.0,392.8 1569.0,380.0 1569.0,367.7 1569.0,355.0 1556.0,342.6 1544.0,335.9 1531.0,323.3 1519.0,310.8 1531.0,298.0 1556.0,285.6 1556.0,273.0 1586.0,260.5 1556.0,248.0 1536.0,235.4 1544.0,222.8 1546.0,210.0 1569.0,197.7 1544.0,185.0 1526.0,172.6 1530.0,166.0 1531.0,160.0" fill="rgb(102,102,102)"/>
<polygon points="1595,158 1705,158 1690,174 1660,184 1600,192 1560,196 1555,186 1600,176" fill="rgb(69,69,69)"/>
<ellipse cx="1636" cy="168" rx="24" ry="7" fill="rgb(107,107,107)"/>
<ellipse cx="1467" cy="552" rx="19" ry="33" fill="rgb(148,148,148)" transform="rotate(28 1467 552)"/>
<ellipse cx="1462" cy="555" rx="8" ry="15" fill="rgb(194,194,194)" transform="rotate(28 1462 555)"/>
<ellipse cx="1472" cy="533" rx="7" ry="2.5" fill="rgb(235,235,235)"/>
<ellipse cx="1521" cy="210" rx="8" ry="4" fill="rgb(142,142,142)"/>
<ellipse cx="1506" cy="235" rx="5" ry="3" fill="rgb(151,151,151)"/>
<ellipse cx="1526" cy="285" rx="7" ry="3" fill="rgb(142,142,142)"/>
<ellipse cx="1468" cy="310" rx="6" ry="4" fill="rgb(151,151,151)"/>
<ellipse cx="1524" cy="330" rx="6" ry="3" fill="rgb(142,142,142)"/>
<ellipse cx="1544" cy="380" rx="6" ry="3" fill="rgb(151,151,151)"/>
<ellipse cx="1468" cy="425" rx="6" ry="4" fill="rgb(161,161,161)"/>
<ellipse cx="1443" cy="468" rx="7" ry="3" fill="rgb(161,161,161)"/>
<ellipse cx="1452" cy="587" rx="6" ry="3" fill="rgb(147,147,147)"/>
<ellipse cx="1398" cy="625" rx="5" ry="5" fill="rgb(195,195,195)"/>
<ellipse cx="1397" cy="650" rx="5" ry="4" fill="rgb(142,142,142)"/>
<ellipse cx="1380" cy="705" rx="4" ry="14" fill="rgb(138,138,138)"/>
<ellipse cx="1394" cy="760" rx="5" ry="4" fill="rgb(138,138,138)"/>
<ellipse cx="1397" cy="810" rx="6" ry="7" fill="rgb(172,172,172)"/>
<ellipse cx="1400" cy="880" rx="8" ry="4" fill="rgb(133,133,133)"/>
<ellipse cx="1500" cy="200" rx="10" ry="6" fill="rgb(126,126,126)"/>
<ellipse cx="1520" cy="265" rx="10" ry="5" fill="rgb(126,126,126)"/>
<ellipse cx="1560" cy="590" rx="60" ry="4" fill="rgb(48,48,48)"/>
<ellipse cx="1540" cy="615" rx="70" ry="4" fill="rgb(48,48,48)"/>
<ellipse cx="1580" cy="640" rx="60" ry="3" fill="rgb(48,48,48)"/>
<ellipse cx="1510" cy="660" rx="60" ry="4" fill="rgb(48,48,48)"/>
<ellipse cx="1560" cy="690" rx="90" ry="3" fill="rgb(48,48,48)"/>
<ellipse cx="1520" cy="700" rx="70" ry="4" fill="rgb(48,48,48)"/>
<ellipse cx="1600" cy="715" rx="60" ry="3" fill="rgb(48,48,48)"/>
<ellipse cx="1490" cy="735" rx="60" ry="4" fill="rgb(48,48,48)"/>
<ellipse cx="1540" cy="760" rx="50" ry="3" fill="rgb(48,48,48)"/>
<ellipse cx="1460" cy="780" rx="40" ry="3" fill="rgb(48,48,48)"/>
<ellipse cx="1500" cy="605" rx="40" ry="3" fill="rgb(48,48,48)"/>
<ellipse cx="1620" cy="655" rx="40" ry="3" fill="rgb(48,48,48)"/>
<ellipse cx="1470" cy="680" rx="50" ry="3" fill="rgb(48,48,48)"/>
<ellipse cx="1650" cy="700" rx="40" ry="2" fill="rgb(48,48,48)"/>
<ellipse cx="1530" cy="725" rx="60" ry="3" fill="rgb(48,48,48)"/>
<ellipse cx="1590" cy="745" rx="50" ry="2" fill="rgb(48,48,48)"/>
<ellipse cx="1500" cy="800" rx="40" ry="3" fill="rgb(48,48,48)"/>
<ellipse cx="1560" cy="300" rx="40" ry="3" fill="rgb(48,48,48)"/>
<ellipse cx="1580" cy="350" rx="40" ry="3" fill="rgb(48,48,48)"/>
<ellipse cx="1560" cy="420" rx="30" ry="3" fill="rgb(48,48,48)"/>
</g>
<line x1="301.5" y1="4" x2="301.5" y2="887" stroke="#000" stroke-width="2.6"/>
<line x1="431.8" y1="4" x2="431.8" y2="887" stroke="#000" stroke-width="2.6"/>
<line x1="868.3" y1="4" x2="868.3" y2="887" stroke="#000" stroke-width="2.6"/>
<line x1="1304.8" y1="4" x2="1304.8" y2="887" stroke="#000" stroke-width="2.6"/>
<line x1="5" y1="159.6" x2="1745" y2="159.6" stroke="#000" stroke-width="2.6"/>
<rect x="5.75" y="5" width="1739.5" height="881" fill="none" stroke="#000" stroke-width="3.6"/>
<rect x="432" y="80.8" width="435.5" height="77" fill="url(#gb)"/>
<rect x="445" y="80.8" width="422.5" height="77" fill="url(#stripes_b)"/>
<line x1="864.5" y1="82.2" x2="1305" y2="82.2" stroke="#ff0000" stroke-width="2.4"/>
<line x1="864.5" y1="141.8" x2="1305" y2="141.8" stroke="#0000ff" stroke-width="2.4"/>
<line x1="868.3" y1="75" x2="868.3" y2="150" stroke="#000" stroke-width="2.6"/>
<rect x="1305" y="95.5" width="439" height="28" fill="url(#gd)"/>
<rect x="1305" y="95.5" width="439" height="28" fill="url(#stripes_d)"/>
<line x1="1305" y1="94.8" x2="1745" y2="94.8" stroke="#000" stroke-width="2.6"/>
<line x1="1305" y1="123.9" x2="1745" y2="123.9" stroke="#000" stroke-width="2.6"/>
<line x1="1367.3" y1="86.5" x2="1367.3" y2="95" stroke="#000" stroke-width="2"/>
<line x1="1430.4" y1="86.5" x2="1430.4" y2="95" stroke="#000" stroke-width="2"/>
<line x1="1493.0" y1="86.5" x2="1493.0" y2="95" stroke="#000" stroke-width="2"/>
<line x1="1556.0" y1="86.5" x2="1556.0" y2="95" stroke="#000" stroke-width="2"/>
<line x1="1619.3" y1="86.5" x2="1619.3" y2="95" stroke="#000" stroke-width="2"/>
<line x1="1682.6" y1="86.5" x2="1682.6" y2="95" stroke="#000" stroke-width="2"/>
<line x1="1378.9" y1="151.5" x2="1378.9" y2="159.5" stroke="#000" stroke-width="2"/>
<line x1="1470.4" y1="151.5" x2="1470.4" y2="159.5" stroke="#000" stroke-width="2"/>
<line x1="1562.3" y1="151.5" x2="1562.3" y2="159.5" stroke="#000" stroke-width="2"/>
<line x1="1654.6" y1="151.5" x2="1654.6" y2="159.5" stroke="#000" stroke-width="2"/>
<line x1="301" y1="232.0" x2="315" y2="232.0" stroke="#000" stroke-width="2.6"/>
<line x1="417.5" y1="232.0" x2="431" y2="232.0" stroke="#000" stroke-width="2.6"/>
<line x1="301" y1="377.5" x2="315" y2="377.5" stroke="#000" stroke-width="2.6"/>
<line x1="417.5" y1="377.5" x2="431" y2="377.5" stroke="#000" stroke-width="2.6"/>
<line x1="301" y1="523.0" x2="315" y2="523.0" stroke="#000" stroke-width="2.6"/>
<line x1="417.5" y1="523.0" x2="431" y2="523.0" stroke="#000" stroke-width="2.6"/>
<line x1="301" y1="668.5" x2="315" y2="668.5" stroke="#000" stroke-width="2.6"/>
<line x1="417.5" y1="668.5" x2="431" y2="668.5" stroke="#000" stroke-width="2.6"/>
<line x1="301" y1="814.0" x2="315" y2="814.0" stroke="#000" stroke-width="2.6"/>
<line x1="417.5" y1="814.0" x2="431" y2="814.0" stroke="#000" stroke-width="2.6"/>
<text x="60.97" y="55.46" font-size="43.6" fill="#000" textLength="188.95" lengthAdjust="spacingAndGlyphs">SCANNED</text>
<text x="102.44" y="101.0" font-size="43.43" fill="#000" textLength="108.02" lengthAdjust="spacingAndGlyphs">CORE</text>
<text x="73.4" y="142.8" font-size="35.73" fill="#000" textLength="18.2" lengthAdjust="spacingAndGlyphs">0</text>
<text x="199.08" y="142.8" font-size="35.73" fill="#000" textLength="84.92" lengthAdjust="spacingAndGlyphs">10 cm</text>
<text x="301.58" y="67.44" font-size="43.25" fill="#000" textLength="129.14" lengthAdjust="spacingAndGlyphs">DEPTH</text>
<text x="336.94" y="114.48" font-size="41.68" fill="#000" textLength="58.56" lengthAdjust="spacingAndGlyphs">(m)</text>
<text x="501.49" y="68.81" font-size="45.96" fill="#000" textLength="315.33" lengthAdjust="spacingAndGlyphs">XRMI_DYNAMIC</text>
<text x="882.13" y="77.11" font-size="41.43" fill="#ff0000" textLength="18.02" lengthAdjust="spacingAndGlyphs">0</text>
<text x="987.49" y="76.41" font-size="40.79" fill="#ff0000" textLength="201.23" lengthAdjust="spacingAndGlyphs">VARIANCE</text>
<text x="1245.78" y="76.38" font-size="39.91" fill="#ff0000" textLength="33.24" lengthAdjust="spacingAndGlyphs">10</text>
<text x="1279.09" y="58.2" font-size="18.57" fill="#ff0000" textLength="7.91" lengthAdjust="spacingAndGlyphs">4</text>
<text x="882.13" y="135.68" font-size="40.47" fill="#0000ff" textLength="18.02" lengthAdjust="spacingAndGlyphs">0</text>
<text x="992.79" y="136.28" font-size="41.39" fill="#0000ff" textLength="186.73" lengthAdjust="spacingAndGlyphs">AVERAGE</text>
<text x="1246.96" y="135.0" font-size="39.54" fill="#0000ff" textLength="52.08" lengthAdjust="spacingAndGlyphs">255</text>
<text x="1306.69" y="49.82" font-size="45.73" fill="#000" textLength="436.92" lengthAdjust="spacingAndGlyphs">GRAYS FREQUENCY(%)</text>
<text x="1308.25" y="86.8" font-size="29.38" fill="#000" textLength="12.5" lengthAdjust="spacingAndGlyphs">0</text>
<text x="1362.33" y="86.8" font-size="29.38" fill="#000" textLength="12.93" lengthAdjust="spacingAndGlyphs">5</text>
<text x="1420.77" y="86.8" font-size="29.38" fill="#000" textLength="24.37" lengthAdjust="spacingAndGlyphs">10</text>
<text x="1484.97" y="86.8" font-size="29.38" fill="#000" textLength="23.02" lengthAdjust="spacingAndGlyphs">15</text>
<text x="1543.55" y="86.59" font-size="28.65" fill="#000" textLength="26.5" lengthAdjust="spacingAndGlyphs">20</text>
<text x="1609.74" y="86.8" font-size="29.38" fill="#000" textLength="24.31" lengthAdjust="spacingAndGlyphs">25</text>
<text x="1669.55" y="86.59" font-size="28.65" fill="#000" textLength="26.5" lengthAdjust="spacingAndGlyphs">30</text>
<text x="1719.5" y="86.59" font-size="28.65" fill="#000" textLength="24.56" lengthAdjust="spacingAndGlyphs">35</text>
<text x="1308.06" y="149.29" font-size="26.86" fill="#000" textLength="12.5" lengthAdjust="spacingAndGlyphs">0</text>
<text x="1364.5" y="149.29" font-size="26.86" fill="#000" textLength="27.22" lengthAdjust="spacingAndGlyphs">50</text>
<text x="1452.81" y="149.29" font-size="26.86" fill="#000" textLength="37.43" lengthAdjust="spacingAndGlyphs">100</text>
<text x="1544.19" y="149.29" font-size="26.86" fill="#000" textLength="37.61" lengthAdjust="spacingAndGlyphs">150</text>
<text x="1636.33" y="149.29" font-size="26.86" fill="#000" textLength="38.43" lengthAdjust="spacingAndGlyphs">200</text>
<text x="1705.59" y="149.29" font-size="26.86" fill="#000" textLength="38.47" lengthAdjust="spacingAndGlyphs">255</text>
<text x="126.29" y="935.75" font-size="41.69" fill="#000" textLength="51.2" lengthAdjust="spacingAndGlyphs">(a)</text>
<text x="629.83" y="935.74" font-size="40.48" fill="#000" textLength="55.14" lengthAdjust="spacingAndGlyphs">(b)</text>
<text x="1080.85" y="935.76" font-size="41.66" fill="#000" textLength="50.77" lengthAdjust="spacingAndGlyphs">(c)</text>
<text x="1487.71" y="936.5" font-size="41.6" fill="#000" textLength="54.85" lengthAdjust="spacingAndGlyphs">(d)</text>
<text x="320.35" y="245.37" font-size="40.47" fill="#000" textLength="95.27" lengthAdjust="spacingAndGlyphs">3108.9</text>
<text x="320.35" y="390.87" font-size="40.47" fill="#000" textLength="96.32" lengthAdjust="spacingAndGlyphs">3109.1</text>
<text x="320.35" y="536.37" font-size="40.47" fill="#000" textLength="96.32" lengthAdjust="spacingAndGlyphs">3109.1</text>
<text x="320.33" y="681.87" font-size="40.47" fill="#000" textLength="96.34" lengthAdjust="spacingAndGlyphs">3109.2</text>
<text x="320.35" y="827.37" font-size="40.47" fill="#000" textLength="95.27" lengthAdjust="spacingAndGlyphs">3109.3</text>
<rect x="107.4" y="124" width="86.4" height="12.6" fill="#000"/>
<rect x="125" y="126.7" width="17.6" height="7.3" fill="#fff"/>
<rect x="160.2" y="126.7" width="16" height="7.3" fill="#fff"/>
</svg>
</body></html>
